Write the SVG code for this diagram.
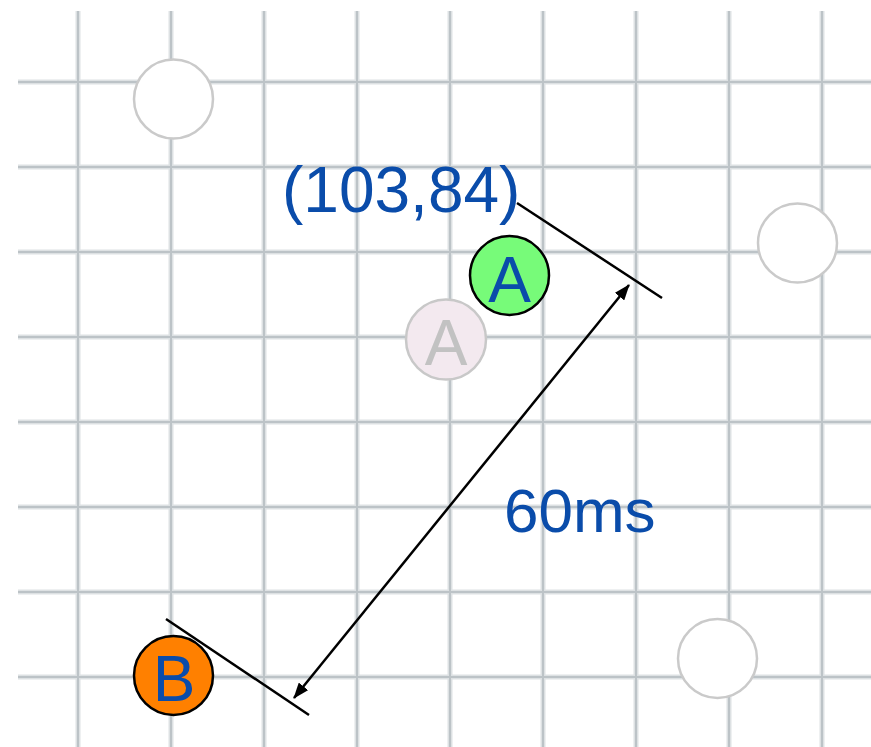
<svg xmlns="http://www.w3.org/2000/svg" width="871" height="747" viewBox="0 0 871 747">
<style>
.g1{stroke:#dde1e3;stroke-width:5;fill:none}
.g2{stroke:#bcc3c7;stroke-width:2;fill:none}
.empty{fill:#ffffff;stroke:#cacaca;stroke-width:2.5}
.node{stroke:#000;stroke-width:2.5}
.lbl{font-family:"Liberation Sans",Arial,sans-serif;font-size:64px;fill:#0a4caa;text-anchor:middle}
.txt{font-family:"Liberation Sans",Arial,sans-serif;fill:#0a4caa}
.ln{stroke:#000;stroke-width:2.5;fill:none}
</style>
<defs>
<marker id="ah" viewBox="0 0 16 12" refX="15" refY="6" markerWidth="16" markerHeight="12" markerUnits="userSpaceOnUse" orient="auto-start-reverse">
<path d="M0,0 L16,6 L0,12 Z" fill="#000"/>
</marker>
</defs>
<rect width="871" height="747" fill="#ffffff"/>
<g id="grid">
<path class="g1" d="M78,11V747M171,11V747M264,11V747M357,11V747M450,11V747M543,11V747M636,11V747M729,11V747M822,11V747M18,82H871M18,167H871M18,252H871M18,337H871M18,422H871M18,507H871M18,592H871M18,677H871"/>
<path class="g2" d="M78,11V747M171,11V747M264,11V747M357,11V747M450,11V747M543,11V747M636,11V747M729,11V747M822,11V747M18,82H871M18,167H871M18,252H871M18,337H871M18,422H871M18,507H871M18,592H871M18,677H871"/>
</g>
<g id="empty1"><circle class="empty" cx="173.5" cy="99" r="39.5"/></g>
<g id="empty2"><circle class="empty" cx="797.5" cy="243" r="39.5"/></g>
<g id="empty3"><circle class="empty" cx="717.5" cy="658.5" r="39.5"/></g>
<g id="ghostA">
<circle cx="446" cy="339.5" r="40" fill="#f3e9ef" stroke="#c8c8c8" stroke-width="2.5"/>
<text x="446" y="365" class="lbl" style="fill:#c2c2c2">A</text>
</g>
<g id="nodeA">
<circle class="node" cx="509.5" cy="275.5" r="39.5" fill="#77fb79"/>
<text x="509.5" y="302" class="lbl">A</text>
</g>
<g id="nodeB">
<circle class="node" cx="173.5" cy="675.5" r="39.5" fill="#ff8000"/>
<text x="174" y="701" class="lbl">B</text>
</g>
<g id="connectors">
<line class="ln" x1="517" y1="203" x2="662" y2="298"/>
<line class="ln" x1="166" y1="619" x2="309" y2="715"/>
<line class="ln" x1="629" y1="285" x2="294" y2="698" marker-start="url(#ah)" marker-end="url(#ah)"/>
</g>
<g id="labels">
<text x="282" y="212" class="txt" font-size="64">(103,84)</text>
<text x="504" y="532" class="txt" font-size="62">60ms</text>
</g>
</svg>
